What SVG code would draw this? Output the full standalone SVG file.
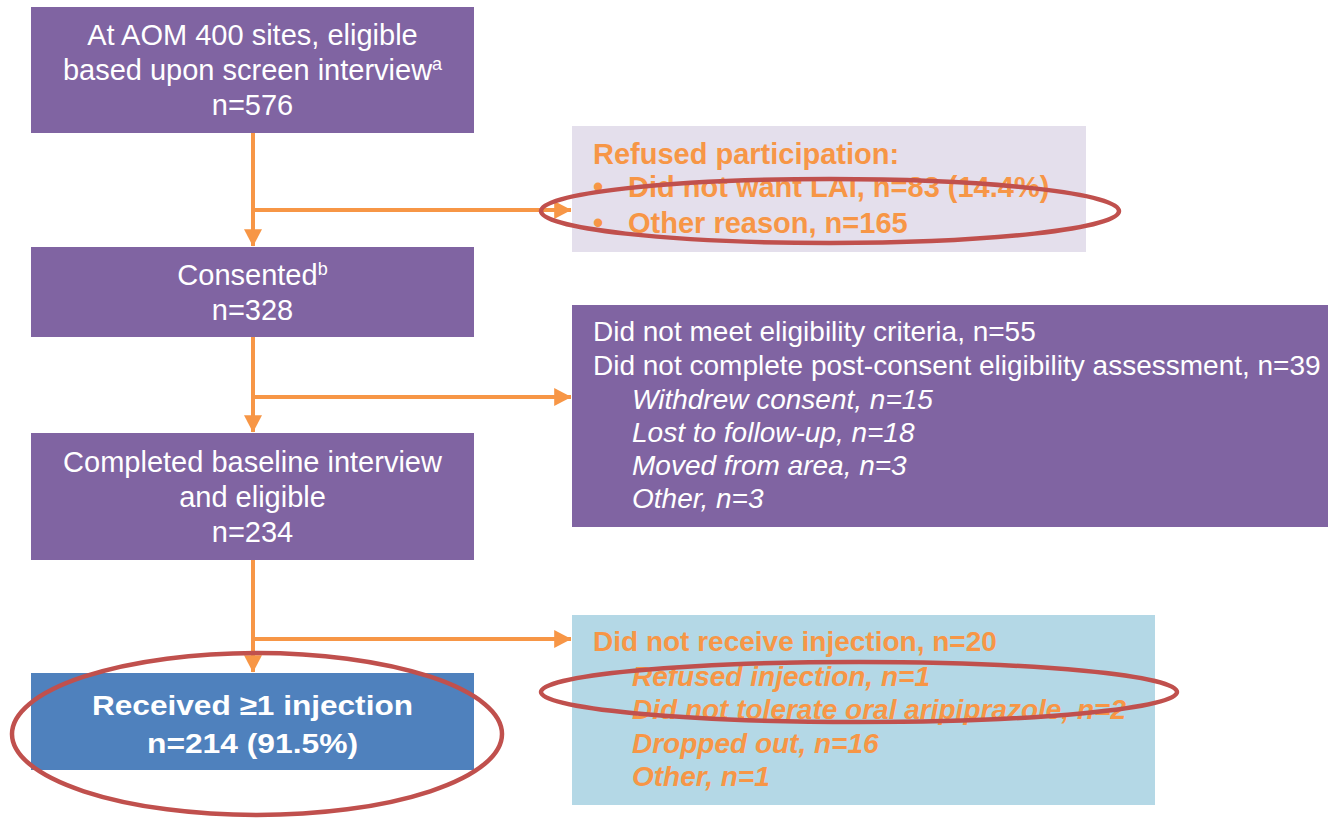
<svg xmlns="http://www.w3.org/2000/svg" width="1328" height="818" viewBox="0 0 1328 818">
<defs>
<style>
.purple{fill:#8064A2}
.lav{fill:#E4DFEC}
.lblue{fill:#B4D8E6}
.blue{fill:#4F81BD}
.w{font-family:"Liberation Sans",Arial,sans-serif;font-size:28px;fill:#FFFFFF}
.big{font-size:29px}
.c{text-anchor:middle}
.o{font-family:"Liberation Sans",Arial,sans-serif;font-size:28px;fill:#F79646;font-weight:bold}
.o29{font-size:29px}
.it{font-style:italic}
.b{font-weight:bold}
.sup{font-size:18px}
.conn{stroke:#F79646;stroke-width:4;fill:none}
.ring{stroke:#C0504D;stroke-width:4.5;fill:none}
</style>
<marker id="ah" markerWidth="5" markerHeight="5" refX="4.2" refY="2.5" orient="auto" markerUnits="strokeWidth">
<path d="M0,0.25 L4.3,2.5 L0,4.75 Z" fill="#F79646"/>
</marker>
</defs>
<rect width="1328" height="818" fill="#FFFFFF"/>

<g id="n1">
<rect class="purple" x="31" y="7" width="443" height="126"/>
<text class="w big c" x="252.5" y="45">At AOM 400 sites, eligible</text>
<text class="w big c" x="252.5" y="80">based upon screen interview<tspan class="sup" dy="-10">a</tspan></text>
<text class="w big c" x="252.5" y="115">n=576</text>
</g>

<g id="n2">
<rect class="purple" x="31" y="247" width="443" height="90"/>
<text class="w big c" x="252.5" y="285">Consented<tspan class="sup" dy="-10">b</tspan></text>
<text class="w big c" x="252.5" y="320">n=328</text>
</g>

<g id="n3">
<rect class="purple" x="31" y="433" width="443" height="127"/>
<text class="w big c" x="252.5" y="472">Completed baseline interview</text>
<text class="w big c" x="252.5" y="507">and eligible</text>
<text class="w big c" x="252.5" y="542">n=234</text>
</g>

<g id="n4">
<rect class="blue" x="31" y="673" width="443" height="97"/>
<text class="w c b" x="252.5" y="715" font-size="32" textLength="321" lengthAdjust="spacingAndGlyphs">Received ≥1 injection</text>
<text class="w c b" x="252.5" y="753" font-size="32" textLength="211" lengthAdjust="spacingAndGlyphs">n=214 (91.5%)</text>
</g>

<g id="r1">
<rect class="lav" x="572" y="126" width="514" height="126"/>
<text class="o o29" x="593" y="164">Refused participation:</text>
<text class="o o29" x="593" y="197">•</text>
<text class="o o29" x="628" y="197">Did not want LAI, n=83 (14.4%)</text>
<text class="o o29" x="593" y="233">•</text>
<text class="o o29" x="628" y="233">Other reason, n=165</text>
</g>

<g id="r2">
<rect class="purple" x="572" y="305" width="756" height="222"/>
<text class="w" x="593" y="341">Did not meet eligibility criteria, n=55</text>
<text class="w" x="593" y="375">Did not complete post-consent eligibility assessment, n=39</text>
<text class="w it" x="632" y="409">Withdrew consent, n=15</text>
<text class="w it" x="632" y="442">Lost to follow-up, n=18</text>
<text class="w it" x="632" y="475">Moved from area, n=3</text>
<text class="w it" x="632" y="508">Other, n=3</text>
</g>

<g id="r3">
<rect class="lblue" x="572" y="615" width="583" height="190"/>
<text class="o" x="593" y="651">Did not receive injection, n=20</text>
<text class="o it" x="632" y="686">Refused injection, n=1</text>
<text class="o it" x="632" y="719">Did not tolerate oral aripiprazole, n=2</text>
<text class="o it" x="632" y="753">Dropped out, n=16</text>
<text class="o it" x="632" y="786">Other, n=1</text>
</g>

<g id="connectors">
<line class="conn" x1="253" y1="133" x2="253" y2="246" marker-end="url(#ah)"/>
<line class="conn" x1="253" y1="210" x2="571" y2="210" marker-end="url(#ah)"/>
<line class="conn" x1="253" y1="337" x2="253" y2="432" marker-end="url(#ah)"/>
<line class="conn" x1="253" y1="397" x2="571" y2="397" marker-end="url(#ah)"/>
<line class="conn" x1="253" y1="560" x2="253" y2="672" marker-end="url(#ah)"/>
<line class="conn" x1="253" y1="639" x2="571" y2="639" marker-end="url(#ah)"/>
</g>

<g id="highlights">
<ellipse class="ring" cx="830" cy="211" rx="289" ry="32"/>
<ellipse class="ring" cx="257" cy="734" rx="245" ry="81"/>
<ellipse class="ring" cx="859" cy="692" rx="318" ry="30"/>
</g>
</svg>
